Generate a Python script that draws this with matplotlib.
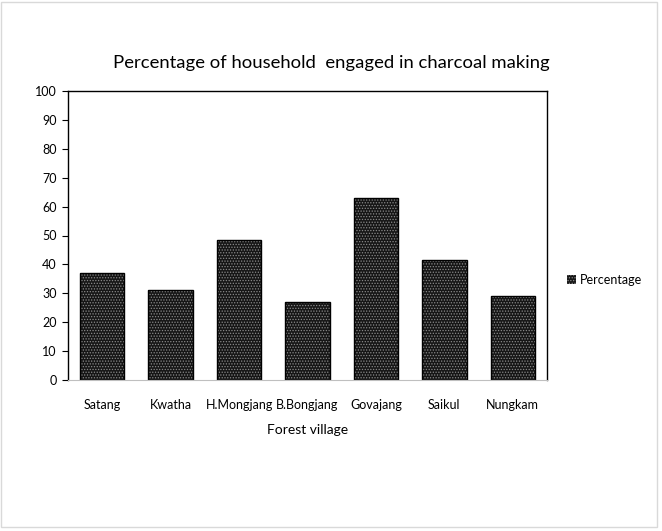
import matplotlib.pyplot as plt
from matplotlib.patches import Rectangle

villages = ['Satang', 'Kwatha', 'H.Mongjang', 'B.Bongjang', 'Govajang', 'Saikul', 'Nungkam']
percentage = [36.9, 31.1, 48.4, 27.1, 62.9, 41.5, 29.2]
y_ticks = list(range(0, 101, 10))

plt.rcParams['font.family'] = ['Lato', 'DejaVu Sans']
plt.rcParams['hatch.linewidth'] = 0.6

fig = plt.figure(figsize=(6.62, 5.31), dpi=100)
ax = fig.add_axes([68 / 662, 1 - 380 / 531, 479 / 662, 289 / 531])

x = range(len(villages))
# patterned fill first, then a plain black outline on top
ax.bar(x, percentage, width=0.65, color='#161616', hatch='......', edgecolor='#8a8a8a',
       linewidth=0, label='Percentage')
ax.bar(x, percentage, width=0.65, fill=False, edgecolor='black', linewidth=1)

ax.set_xlim(-0.5, len(villages) - 0.5)
ax.set_ylim(0, 100)
ax.set_yticks(y_ticks)
ax.set_xticks(list(x))
ax.set_xticklabels(villages)
ax.tick_params(axis='x', length=0, pad=14, labelsize=9)
ax.tick_params(axis='y', length=4, direction='out', labelsize=9, pad=4)
for s in ['top', 'right', 'left']:
    ax.spines[s].set_color('black')
    ax.spines[s].set_linewidth(1)
ax.spines['bottom'].set_color('#bfbfbf')

ax.set_xlabel('Forest village', fontsize=10, labelpad=9)
fig.text(0.5, 1 - 63 / 531, 'Percentage of household  engaged in charcoal making',
         fontsize=13.3, ha='center', va='center')

handles, labels = ax.get_legend_handles_labels()
fig.legend(handles[:1], labels[:1], loc='center left', bbox_to_anchor=(556 / 662, 1 - 280 / 531),
           frameon=False, fontsize=9, handlelength=0.7, handleheight=0.7, handletextpad=0.3)

fig.patches.append(Rectangle((1 / 662, 4 / 531), 656 / 662, 525 / 531, transform=fig.transFigure,
                             fill=False, edgecolor='#d9d9d9', linewidth=1))

fig.savefig('out.png', dpi=100)
